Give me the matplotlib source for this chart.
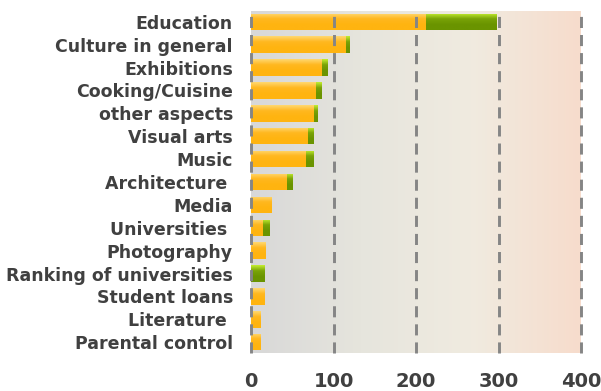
import numpy as np
import matplotlib
matplotlib.use("Agg")
import matplotlib.pyplot as plt
from matplotlib.colors import LinearSegmentedColormap

categories = ["Education", "Culture in general", "Exhibitions", "Cooking/Cuisine",
              "other aspects", "Visual arts", "Music", "Architecture ", "Media",
              "Universities ", "Photography", "Ranking of universities",
              "Student loans", "Literature ", "Parental control"]
orange_vals = [212, 115, 86, 79, 76, 69, 67, 44, 25, 14, 18, 0, 16, 12, 12]
green_vals = [85, 4, 7, 7, 4, 7, 9, 7, 0, 8, 0, 16, 0, 0, 0]
xticks = [0, 100, 200, 300, 400]

fig = plt.figure(figsize=(6.01, 3.91), dpi=100)
ax = fig.add_axes([251/601, (391-353)/391, 330/601, 342/391])

ypos = np.arange(len(categories))
ax.set_xlim(0, 400)
ax.set_ylim(14.47, -0.47)

# background gradient
bg = LinearSegmentedColormap.from_list("bg", ["#d8d8d8", "#e6e5dd", "#f0ebe0", "#f7dccc"])
grad = np.linspace(0, 1, 256).reshape(1, -1)
ax.imshow(grad, cmap=bg, extent=[0, 400, 14.47, -0.47], aspect="auto", zorder=0)

orange_cm = LinearSegmentedColormap.from_list("or", ["#ffd870", "#ffb820", "#ffb410", "#ffb410"])
green_cm = LinearSegmentedColormap.from_list("gr", ["#c4ee30", "#7aa408", "#6a9400", "#6a9400"])
vgrad = np.linspace(0, 1, 64).reshape(-1, 1)

h = 0.72
b1 = ax.barh(ypos, orange_vals, height=h, color="#ffb410", zorder=2)
b2 = ax.barh(ypos, green_vals, left=orange_vals, height=h, color="#6a9400", zorder=2)
for bars, cm in ((b1, orange_cm), (b2, green_cm)):
    for r in bars:
        x0, y0 = r.get_x(), r.get_y()
        w, hh = r.get_width(), r.get_height()
        if w <= 0:
            continue
        im = ax.imshow(vgrad, cmap=cm, extent=[x0, x0 + w, y0 + hh, y0],
                       aspect="auto", zorder=3)
        im.set_clip_path(r)

for xv in xticks:
    ax.axvline(xv, color="#858585", lw=2.1, ls=(0, (3.8, 2.4)), zorder=4, clip_on=False)

ax.set_xlim(0, 400)
ax.set_ylim(14.47, -0.47)
for s in ax.spines.values():
    s.set_visible(False)
ax.set_xticks(xticks)
ax.set_xticklabels([str(t) for t in xticks])
ax.set_yticks(ypos)
ax.set_yticklabels(categories)
ax.tick_params(axis="both", length=0)
ax.tick_params(axis="x", pad=14, labelsize=14, labelcolor="#404040")
ax.tick_params(axis="y", pad=13, labelsize=12.5, labelcolor="#404040")
for t in ax.get_xticklabels() + ax.get_yticklabels():
    t.set_fontweight("bold")
    t.set_fontfamily("DejaVu Sans")

fig.savefig("out.png", dpi=100)
